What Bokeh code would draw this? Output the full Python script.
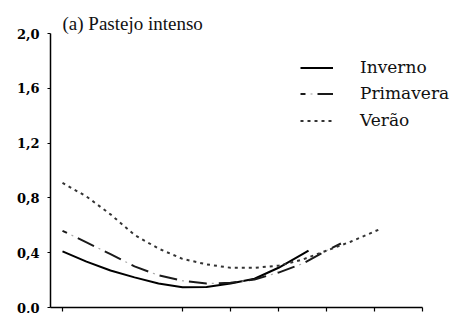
from bokeh.plotting import figure
from bokeh.models import Range1d, FixedTicker, Legend, LegendItem
from bokeh.embed import file_html
from bokeh.resources import INLINE

# ---- data ----
x_inverno = [0, 1, 2, 3, 4, 5, 6, 7, 8, 9, 10, 10.25]
y_inverno = [0.41, 0.335, 0.27, 0.22, 0.175, 0.148, 0.15, 0.175, 0.21, 0.29, 0.39, 0.415]

x_primavera = [0, 1, 2, 3, 4, 5, 6, 7, 8, 9, 10, 11, 11.6]
y_primavera = [0.56, 0.475, 0.39, 0.3, 0.235, 0.195, 0.175, 0.18, 0.205, 0.255, 0.32, 0.415, 0.467]

x_verao = [0, 1, 2, 3, 4, 5, 6, 7, 8, 9, 10, 11, 12, 13.2]
y_verao = [0.91, 0.81, 0.68, 0.53, 0.43, 0.355, 0.315, 0.29, 0.29, 0.305, 0.35, 0.415, 0.48, 0.57]

series_names = ["Inverno", "Primavera", "Verão"]
x_ticks = [0, 5, 7, 9, 11, 13, 15]
y_ticks = [0.0, 0.4, 0.8, 1.2, 1.6, 2.0]
y_tick_labels = ["0,0", "0,4", "0,8", "1,2", "1,6", "2,0"]
title_text = "(a) Pastejo intenso"

p = figure(width=465, height=313, output_backend="svg", toolbar_location=None,
           x_range=Range1d(-0.5, 16.79), y_range=Range1d(0, 2.0),
           min_border_left=50, min_border_right=0, min_border_top=33,
           min_border_bottom=6)
p.outline_line_color = None
p.xgrid.visible = False
p.ygrid.visible = False
p.background_fill_color = "white"

p.title.text = title_text
p.title.text_font = "Liberation Serif"
p.title.text_font_size = "19px"
p.title.text_font_style = "normal"
p.title.text_color = "#111111"
p.title.align = "left"
p.title.offset = 12
p.title.standoff = 0

# axes
for ax in (p.xaxis[0], p.yaxis[0]):
    ax.axis_line_color = "black"
    ax.axis_line_width = 1.5
    ax.major_tick_line_color = "black"
    ax.major_tick_line_width = 1.2
    ax.minor_tick_line_color = None
    ax.major_tick_in = 0

p.xaxis.bounds = (-0.5, 15)
p.xaxis.ticker = FixedTicker(ticks=x_ticks)
p.xaxis.major_tick_out = 4
p.xaxis.major_label_overrides = {t: "" for t in x_ticks}
p.xaxis.major_label_text_font_size = "1px"
p.xaxis.major_label_standoff = 0
p.xaxis.axis_label_standoff = 0

p.yaxis.ticker = FixedTicker(ticks=y_ticks)
p.yaxis.major_label_overrides = {t: l for t, l in zip(y_ticks, y_tick_labels)}
p.yaxis.major_tick_out = 3
p.yaxis.major_label_standoff = 8
p.yaxis.major_label_text_font = "DejaVu Serif"
p.yaxis.major_label_text_font_style = "bold"
p.yaxis.major_label_text_font_size = "13px"
p.yaxis.major_label_text_color = "black"

# curves
r1 = p.line(x_inverno, y_inverno, line_color="black", line_width=2)
r2dots = p.line(x_primavera, y_primavera, line_color="#aaaaaa", line_width=1.2,
                line_dash="2 28", line_dash_offset=20)
r2 = p.line(x_primavera, y_primavera, line_color="#1a1a1a", line_width=2,
            line_dash="18 12", line_dash_offset=13)
r3 = p.line(x_verao, y_verao, line_color="#333333", line_width=2, line_dash="3 4")

items = [[r1], [r2dots, r2], [r3]]
locs = [(250, 230), (250, 204), (250, 177)]
for name, rs, loc in zip(series_names, items, locs):
    lg = Legend(items=[LegendItem(label=name, renderers=rs)], location=loc)
    lg.border_line_color = None
    lg.background_fill_alpha = 0
    lg.padding = 0
    lg.margin = 0
    lg.glyph_width = 33
    lg.glyph_height = 17
    lg.label_height = 17
    lg.label_standoff = 27
    lg.label_text_font = "DejaVu Serif"
    lg.label_text_font_size = "17px"
    lg.label_text_color = "#111111"
    p.add_layout(lg, "center")

open("out.html", "w").write(file_html(p, INLINE))
